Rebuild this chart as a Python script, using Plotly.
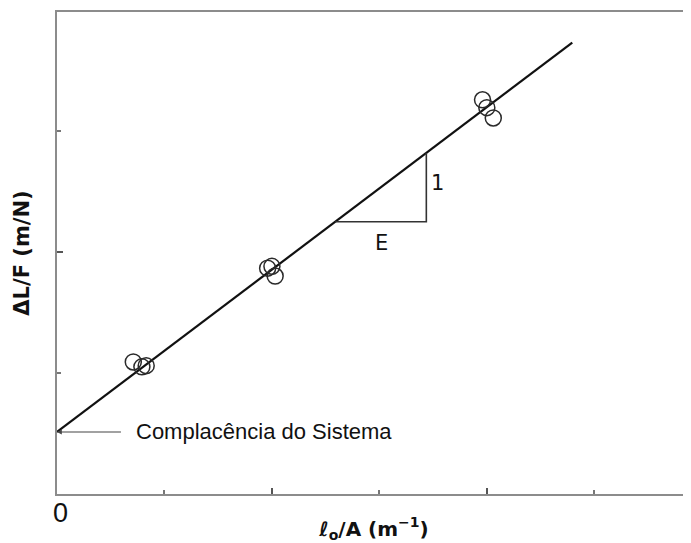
import plotly.graph_objects as go

# --- data (axis units: 1 tick = 1 unit) ---
pts_x = [0.71, 0.79, 0.83, 1.96, 2.00, 2.03, 3.96, 4.00, 4.06]
pts_y = [1.09, 1.05, 1.06, 1.865, 1.88, 1.80, 3.255, 3.19, 3.105]

fit_x = [0.0, 4.795]
fit_y = [0.512, 3.727]

tri_x = [2.589, 3.437, 3.437]
tri_y = [2.248, 2.248, 2.816]

x_range = [0, 5.90]
y_range = [0, 3.98]

AXC = "#8c8c8c"

fig = go.Figure()
fig.add_trace(go.Scatter(x=fit_x, y=fit_y, mode="lines",
                         line=dict(color="#111111", width=2.2),
                         showlegend=False, hoverinfo="skip"))
fig.add_trace(go.Scatter(x=tri_x, y=tri_y, mode="lines",
                         line=dict(color="#333333", width=1.6),
                         showlegend=False, hoverinfo="skip"))
fig.add_trace(go.Scatter(x=pts_x, y=pts_y, mode="markers",
                         marker=dict(symbol="circle-open", size=16,
                                     color="#2a2a2a", line=dict(width=1.5)),
                         showlegend=False))

fig.update_layout(
    width=683, height=535,
    margin=dict(l=49, r=0, t=4, b=49),
    plot_bgcolor="white", paper_bgcolor="white",
    font=dict(family="Liberation Sans, Arial", color="#111111"),
    xaxis=dict(range=x_range, showgrid=False, zeroline=False,
               showline=True, linecolor=AXC, linewidth=2, mirror=True,
               ticks="inside", ticklen=6, tickwidth=1.5, tickcolor="#555555",
               tickvals=[0, 2, 4], showticklabels=False,
               minor=dict(ticks="inside", ticklen=4, tickwidth=1.5,
                          tickcolor="#777777", dtick=1, tick0=0, showgrid=False),
               title=dict(text="<b>ℓ<sub>o</sub>/A (m<sup>−1</sup>)</b>",
                          font=dict(size=20, family="DejaVu Sans"), standoff=31)),
    yaxis=dict(range=y_range, showgrid=False, zeroline=False,
               showline=True, linecolor=AXC, linewidth=2,
               ticks="inside", ticklen=6, tickwidth=1.5, tickcolor="#555555",
               tickvals=[0, 2, 4], showticklabels=False,
               minor=dict(ticks="inside", ticklen=4, tickwidth=1.5,
                          tickcolor="#777777", dtick=1, tick0=0, showgrid=False),
               title=dict(text="<b>ΔL/F (m/N)</b>",
                          font=dict(size=21, family="DejaVu Sans"), standoff=20)),
)

fig.add_annotation(x=0, y=-0.0394, xref="x", yref="paper", text="0",
                   showarrow=False, xshift=3, yanchor="middle", xanchor="center",
                   font=dict(size=27, family="Liberation Sans, Arial"))
fig.add_annotation(x=0, y=0.512, ax=0.609, ay=0.512, axref="x", ayref="y",
                   xref="x", yref="y", text="", showarrow=True,
                   arrowhead=2, arrowsize=0.8, arrowwidth=1.2, arrowcolor="#444444")
fig.add_annotation(x=0.712, y=0.512, xref="x", yref="y", xanchor="left",
                   yanchor="middle", text="Complacência do Sistema",
                   showarrow=False, font=dict(size=22, family="Liberation Sans, Arial"))
fig.add_annotation(x=3.539, y=2.57, xref="x", yref="y", text="1",
                   showarrow=False, font=dict(size=21, family="DejaVu Sans"))
fig.add_annotation(x=3.019, y=2.074, xref="x", yref="y", text="E",
                   showarrow=False, font=dict(size=21, family="DejaVu Sans"))

fig.write_html("out.html")
